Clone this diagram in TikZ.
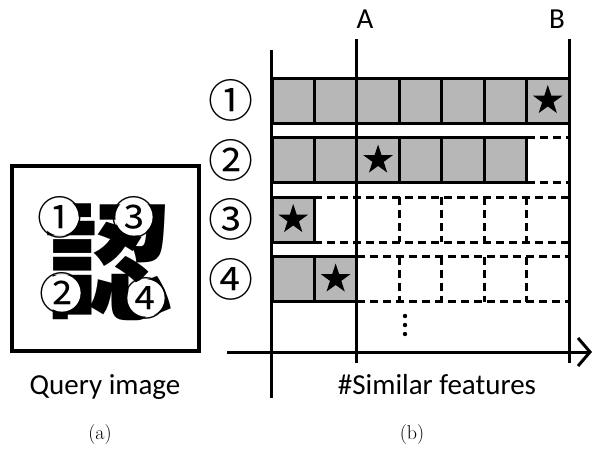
\documentclass[tikz,border=0pt]{standalone}
\usepackage{fontspec}
\newfontfamily\calibri{Carlito}
\newfontfamily\cjk{Noto Sans CJK JP}
\usetikzlibrary{arrows.meta,shapes.geometric}
\definecolor{cellgray}{RGB}{183,183,183}
\newcommand{\cw}{42.43}

\begin{document}
\begin{tikzpicture}[x=1pt,y=-1pt,
    cell/.style={draw,line width=3pt,fill=cellgray},
    gap/.style={line width=3pt,dash pattern=on 8pt off 5pt},
    axis/.style={line width=3pt},
    starmark/.style={star,star points=5,star point ratio=2.6,fill=black,inner sep=0,minimum size=31pt},
    lbl/.style={font=\calibri\fontsize{29}{32}\selectfont,inner sep=0},
    num/.style={font=\cjk\fontsize{45}{45}\selectfont,inner sep=0},
    qnum/.style={num,circle,fill=white,inner sep=-8.6pt}]
  \useasboundingbox (0,0) rectangle (594,474);
  % (a) query image
  \node[draw,line width=3.5pt,minimum width=187pt,minimum height=185pt,inner sep=0] (query) at (105.5,258.5) {};
  \node[font=\cjk\bfseries\fontsize{128}{128}\selectfont,inner sep=0] (kanji) at (108,262) {認};
  \node[qnum] (q1) at (60,217) {①};
  \node[qnum] (q3) at (134,217) {③};
  \node[qnum] (q2) at (62,293) {②};
  \node[qnum] (q4) at (146,298) {④};
  \node[lbl,anchor=base] (qlabel) at (105,394) {Query image};
  % (b) features per region
  \foreach \r/\n in {1/7,2/6,3/1,4/2}
    \foreach \c in {1,...,\n}
      \draw[cell] ({272+(\c-1)*\cw},{78+(\r-1)*59.5}) rectangle ++(\cw,45);
  \foreach \r/\n in {2/6,3/1,4/2}
    \draw[gap] ({272+\n*\cw},{78+(\r-1)*59.5}) -- (569,{78+(\r-1)*59.5})
               ({272+\n*\cw},{123+(\r-1)*59.5}) -- (569,{123+(\r-1)*59.5});
  \foreach \r in {3,4}
    \foreach \k in {3,...,6}
      \draw[gap] ({272+\k*\cw},{78+(\r-1)*59.5}) -- ++(0,45);
  \foreach \r/\s in {1/7,2/3,3/1,4/2}
    \node[starmark] (star\r) at ({272+(\s-.5)*\cw},{100.5+(\r-1)*59.5}) {};
  \foreach \r in {1,...,4}
    \node[num] (row\r) at (231,{100.5+(\r-1)*59.5}) {\ifcase\r\or①\or②\or③\or④\fi};
  \foreach \y in {316,325,334} \fill (405,\y) circle (2.2pt);
  % axes and thresholds
  \coordinate (ytop) at (271,50);  \coordinate (ybot) at (271,398);
  \coordinate (xlft) at (227,352); \coordinate (xrgt) at (592,352);
  \coordinate (atop) at (356,39);  \coordinate (abot) at (356,363);
  \coordinate (btop) at (569,39);  \coordinate (bbot) at (569,363);
  \draw[axis] (ytop) -- (ybot);
  \draw[axis,-{Straight Barb[length=12pt,width=28pt,line width=3pt]}] (xlft) -- (xrgt);
  \draw[axis] (atop) -- (abot);
  \draw[axis] (btop) -- (bbot);
  \node[lbl,anchor=base] (labA) at (365,28) {A};
  \node[lbl,anchor=base] (labB) at (557,28) {B};
  \node[lbl,anchor=base] (xlabel) at (437,394) {\#Similar features};
  % captions
  \node[font=\fontsize{20}{24}\selectfont] (capa) at (100,435) {(a)};
  \node[font=\fontsize{20}{24}\selectfont] (capb) at (412,435) {(b)};
\end{tikzpicture}
\end{document}
